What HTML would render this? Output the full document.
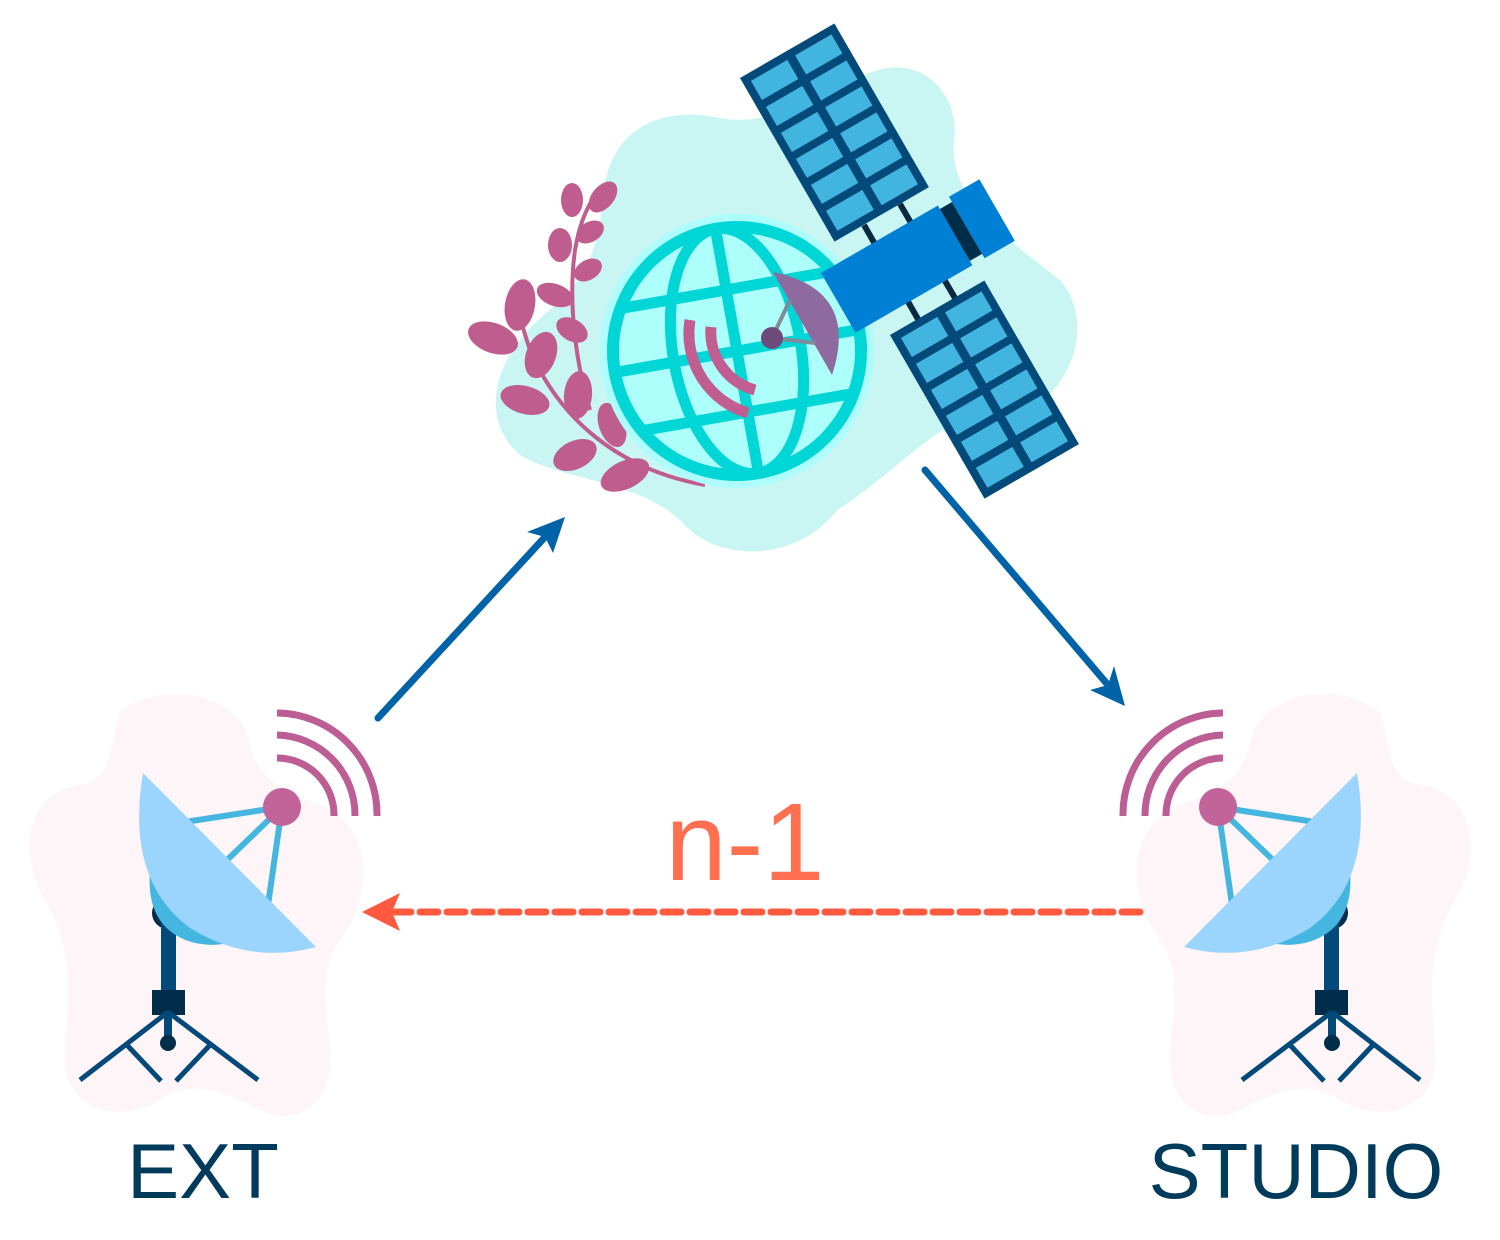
<!DOCTYPE html>
<html><head><meta charset="utf-8"><style>
html,body{margin:0;padding:0;background:#fff;}
svg{display:block;}
</style></head><body>
<svg width="1500" height="1240" viewBox="0 0 1500 1240" xmlns="http://www.w3.org/2000/svg">
<defs>
<g id="ant">
  <path d="M120,712 C160,680 240,690 250,745 C262,790 300,795 330,810 C375,835 370,900 340,940 C315,975 330,1020 330,1060 C330,1110 290,1130 250,1105 C220,1090 190,1080 160,1100 C120,1125 65,1110 65,1060 C65,1010 80,960 45,900 C15,850 30,790 80,785 C115,780 110,740 120,712 Z" fill="#fdf5f8"/>
  <g fill="none" stroke="#bc5d93" stroke-width="7">
    <path d="M277,758 A57,57 0 0 1 334,816"/>
    <path d="M277,735 A80,80 0 0 1 355,816"/>
    <path d="M277,713 A101,101 0 0 1 377,816"/>
  </g>
  <g stroke="#44b6e0" stroke-width="6">
    <line x1="282" y1="807" x2="185" y2="822"/>
    <line x1="282" y1="807" x2="225" y2="862"/>
    <line x1="282" y1="807" x2="268" y2="905"/>
  </g>
  <circle cx="282" cy="807" r="19" fill="#c2639a"/>
  <circle cx="168" cy="913" r="16" fill="#002d4a"/>
  <rect x="161" y="915" width="15" height="78" fill="#03497a"/>
  <path d="M150,870 Q145,930 195,943 Q230,950 250,930 L200,860 Z" fill="#44b6e0"/>
  <path d="M143,773 Q125,880 190,928 Q250,965 316,947 Z" fill="#9bd5fd"/>
  <rect x="152" y="990" width="33" height="25" fill="#002d4a"/>
  <rect x="164" y="1012" width="8" height="30" fill="#03497a"/>
  <circle cx="168" cy="1043" r="8" fill="#002d4a"/>
  <g stroke="#03497a" stroke-width="5" fill="none">
    <line x1="168" y1="1012" x2="80" y2="1080"/>
    <line x1="168" y1="1012" x2="258" y2="1080"/>
    <line x1="126" y1="1044" x2="161" y2="1081"/>
    <line x1="211" y1="1044" x2="176" y2="1081"/>
  </g>
</g>
<g id="panel">
  <rect x="0" y="0" width="109" height="189" fill="#03497a"/>
  <g fill="#42b4e0">
    <rect x="8" y="8" width="42" height="22"/><rect x="59" y="8" width="42" height="22"/>
    <rect x="8" y="38" width="42" height="22"/><rect x="59" y="38" width="42" height="22"/>
    <rect x="8" y="68" width="42" height="22"/><rect x="59" y="68" width="42" height="22"/>
    <rect x="8" y="98" width="42" height="22"/><rect x="59" y="98" width="42" height="22"/>
    <rect x="8" y="128" width="42" height="22"/><rect x="59" y="128" width="42" height="22"/>
    <rect x="8" y="158" width="42" height="23"/><rect x="59" y="158" width="42" height="23"/>
  </g>
</g>
</defs>

<use href="#ant"/>
<use href="#ant" transform="translate(1500,0) scale(-1,1)"/>

<path d="M604,192 C610,130 660,105 720,118 C780,130 830,80 887,68 C930,62 960,100 954,141 C948,200 1010,240 1060,280 C1095,320 1075,390 1020,415 C980,432 960,445 942,430 C900,460 870,490 837,510 C800,560 720,565 683,523 C640,480 560,480 520,455 C480,420 490,360 546,313 C590,280 600,240 604,192 Z" fill="#c9f5f3"/>

<g fill="none" stroke="#bf5e8e" stroke-width="4">
  <path d="M705,485 C620,470 560,420 530,350 C520,320 515,300 518,285"/>
  <path d="M590,410 C575,360 568,300 575,250 C580,220 590,200 600,190"/>
</g>
<g fill="#bf5e8e">
  <ellipse cx="493" cy="338" rx="26" ry="15" transform="rotate(20 493 338)"/>
  <ellipse cx="520" cy="305" rx="15" ry="26" transform="rotate(10 520 305)"/>
  <ellipse cx="541" cy="355" rx="15" ry="24" transform="rotate(20 541 355)"/>
  <ellipse cx="525" cy="400" rx="25" ry="14" transform="rotate(15 525 400)"/>
  <ellipse cx="578" cy="395" rx="14" ry="24" transform="rotate(5 578 395)"/>
  <ellipse cx="575" cy="455" rx="23" ry="14" transform="rotate(-25 575 455)"/>
  <ellipse cx="625" cy="475" rx="26" ry="14" transform="rotate(-25 625 475)"/>
  <ellipse cx="612" cy="425" rx="13" ry="23" transform="rotate(-20 612 425)"/>
  <ellipse cx="555" cy="295" rx="19" ry="11" transform="rotate(20 555 295)"/>
  <ellipse cx="572" cy="330" rx="17" ry="11" transform="rotate(30 572 330)"/>
  <ellipse cx="560" cy="245" rx="12" ry="17"/>
  <ellipse cx="572" cy="200" rx="11" ry="17"/>
  <ellipse cx="603" cy="197" rx="11" ry="18" transform="rotate(40 603 197)"/>
  <ellipse cx="590" cy="232" rx="15" ry="10" transform="rotate(-30 590 232)"/>
  <ellipse cx="588" cy="270" rx="15" ry="10" transform="rotate(-30 588 270)"/>
</g>

<circle cx="737" cy="351" r="137" fill="#adfdfc"/>
<clipPath id="gc"><circle cx="737" cy="351" r="124"/></clipPath>
<circle cx="737" cy="351" r="124" fill="#adfffc"/>
<g clip-path="url(#gc)" stroke="#00d6d6" stroke-width="11" fill="none" transform="rotate(-10 737 351)">
  <line x1="737" y1="200" x2="737" y2="500"/>
  <ellipse cx="737" cy="351" rx="64" ry="124"/>
  <line x1="580" y1="289" x2="900" y2="289"/>
  <line x1="580" y1="351" x2="900" y2="351"/>
  <line x1="580" y1="413" x2="900" y2="413"/>
</g>
<circle cx="737" cy="351" r="124" fill="none" stroke="#00d6d6" stroke-width="12"/>
<g fill="none" stroke="#c05e91" stroke-width="11">
  <path d="M690,320 A83,83 0 0 0 748,413"/>
  <path d="M711,327 A60,60 0 0 0 755,390"/>
</g>

<g stroke="#0b2a40" stroke-width="6">
  <line x1="864" y1="225" x2="930" y2="340"/>
  <line x1="900" y1="204" x2="962" y2="310"/>
</g>
<use href="#panel" transform="translate(740,78) rotate(-30)"/>
<use href="#panel" transform="translate(890,335) rotate(-30)"/>
<g transform="translate(821,273) rotate(-30)">
  <rect x="0" y="0" width="135" height="69" fill="#0080d4"/>
  <rect x="135" y="4" width="14" height="60" fill="#002d4a"/>
  <rect x="149" y="-2" width="35" height="71" fill="#0080d4"/>
</g>
<path d="M773,272 Q860,290 832,375 Z" fill="#8e6a9e"/>
<g stroke="#7f8c99" stroke-width="4">
  <line x1="772" y1="338" x2="790" y2="300"/>
  <line x1="772" y1="338" x2="815" y2="343"/>
</g>
<circle cx="772" cy="338" r="11" fill="#6e4a7a"/>

<g stroke="#0063a8" stroke-width="7" stroke-linecap="round">
  <line x1="378" y1="718" x2="545" y2="537"/>
  <line x1="925" y1="470" x2="1108" y2="685"/>
</g>
<path d="M565,517 L553,553 L545,537 L527,532 Z" fill="#0063a8"/>
<path d="M1125,706 L1090,690 L1108,685 L1114,666 Z" fill="#0063a8"/>

<line x1="1140" y1="912" x2="395" y2="912" stroke="#ff5a40" stroke-width="7" stroke-dasharray="18 9" stroke-linecap="round"/>
<path d="M362,912 L400,893 L392,912 L400,931 Z" fill="#ff5a40"/>

<text x="745" y="880" text-anchor="middle" font-family="Liberation Sans, sans-serif" font-size="110" fill="#ff6f50">n-1</text>
<text x="203" y="1198" text-anchor="middle" font-family="Liberation Sans, sans-serif" font-size="78" fill="#003b5c">EXT</text>
<text x="1296" y="1198" text-anchor="middle" font-family="Liberation Sans, sans-serif" font-size="78" fill="#003b5c">STUDIO</text>
</svg>
</body></html>
